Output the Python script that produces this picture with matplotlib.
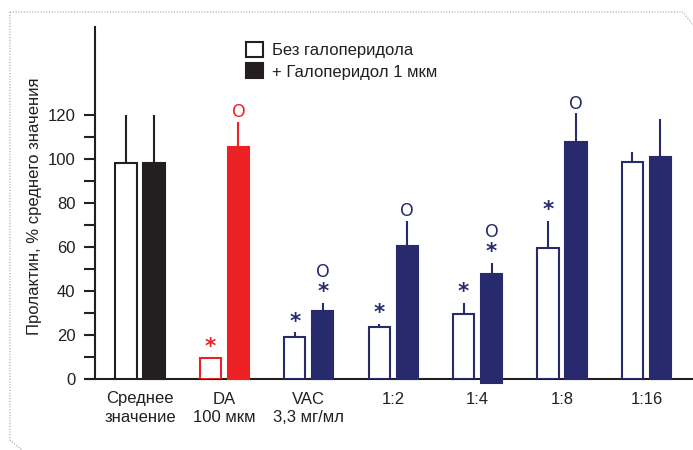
import numpy as np
import matplotlib
matplotlib.use("Agg")
import matplotlib.pyplot as plt
from matplotlib.lines import Line2D
from matplotlib.patches import Rectangle

plt.rcParams['font.family'] = ['Liberation Sans', 'DejaVu Sans']

# Группы и значения пролактина (% от среднего)
groups = ['Среднее\nзначение', 'DA\n100 мкм', 'VAC\n3,3 мг/мл', '1:2', '1:4', '1:8', '1:16']
no_hal = [98, 9.5, 19, 23.7, 29.6, 59.4, 98.7]
no_hal_err = [22, 0.4, 2.2, 1.3, 5, 12.4, 4.3]
with_hal = [98, 105.5, 30.7, 60.4, 47.6, 107.9, 101.1]
with_hal_err = [22, 11.5, 3.9, 11.6, 5.1, 12.8, 17]
with_hal_bottom = [0, 0, 0, 0, -2, 0, 0]

# отметки значимости
star_no = [False, True, True, True, True, True, False]
star_with = [False, False, True, False, True, False, False]
circle_with = [False, True, True, True, True, True, False]

navy = '#272a6d'
colors = ['#231f20', '#ed2024', navy, navy, navy, navy, navy]
text_color = '#231f20'
fs = 12

W, H = 693, 450
fig = plt.figure(figsize=(W / 100, H / 100), dpi=100)
ax_left, ax_right, ax_bottom, ax_top = 87, 693, 379, 27
ax = fig.add_axes([ax_left / W, 1 - ax_bottom / H, (ax_right - ax_left) / W, (ax_bottom - ax_top) / H])

x = np.arange(len(groups))
bw = 0.25
off = 0.166
step = 84.4  # пикселей на группу
x0 = -(140 - ax_left) / step
x1 = x0 + (ax_right - ax_left) / step
ax.set_xlim(x0, x1)
ax.set_ylim(0, 160)

lw = 1.5


def star(xp, yc, c):
    # звёздочка, центр глифа на высоте yc
    ax.text(xp, yc - 5.4, '*', color=c, ha='center', va='baseline',
            fontsize=15.5, family='DejaVu Sans', fontweight='bold')


def circle(xp, yc, c):
    ax.text(xp, yc - 2.8, 'O', color=c, ha='center', va='baseline',
            fontsize=12.5, family='DejaVu Sans')


for i in x:
    c = colors[i]
    ax.bar(x[i] - off, no_hal[i], bw, facecolor='white', edgecolor=c, linewidth=lw, zorder=3)
    ax.bar(x[i] + off, with_hal[i] - with_hal_bottom[i], bw, bottom=with_hal_bottom[i],
           facecolor=c, edgecolor=c, linewidth=lw, zorder=3, clip_on=False)
    ax.vlines(x[i] - off, no_hal[i], no_hal[i] + no_hal_err[i], color=c, linewidth=lw, zorder=2)
    ax.vlines(x[i] + off, with_hal[i], with_hal[i] + with_hal_err[i], color=c, linewidth=lw, zorder=2)

    top_no = no_hal[i] + no_hal_err[i]
    if star_no[i]:
        star(x[i] - off, top_no + 7.5, c)
    top_w = with_hal[i] + with_hal_err[i]
    if star_with[i]:
        star(x[i] + off, top_w + 7.5, c)
        top_w += 9.5
    if circle_with[i]:
        circle(x[i] + off, top_w + 5, c)

# оси
for s in ['top', 'right']:
    ax.spines[s].set_visible(False)
ax.spines['left'].set_position(('axes', (95 - ax_left) / (ax_right - ax_left)))
ax.spines['left'].set_linewidth(lw)
ax.spines['bottom'].set_linewidth(lw)
ax.spines['left'].set_color(text_color)
ax.spines['bottom'].set_color(text_color)
ax.spines['left'].set_bounds(0, 160)

ax.set_yticks(np.arange(0, 121, 20))
ax.set_yticks(np.arange(10, 121, 20), minor=True)
ax.tick_params(axis='y', which='both', direction='out', length=8, width=lw, color=text_color,
               labelsize=fs, labelcolor=text_color, pad=6)
ax.set_xticks(x)
ax.set_xticklabels(groups, fontsize=fs, color=text_color, linespacing=1.3)
ax.tick_params(axis='x', length=0, pad=9)
labels = ax.get_xticklabels()
labels[0].set_x(x[0] - 0.32)

fig.text(35 / W, 1 - 206 / H, 'Пролактин, % среднего значения', rotation=90,
         ha='center', va='center', fontsize=fs, color=text_color)

# легенда
handles = [Rectangle((0, 0), 1, 1, facecolor='white', edgecolor=text_color, linewidth=lw),
           Rectangle((0, 0), 1, 1, facecolor=text_color, edgecolor=text_color, linewidth=lw)]
leg = fig.legend(handles, ['Без галоперидола', '+ Галоперидол 1 мкм'],
                 loc='upper left', bbox_to_anchor=(238 / W, 1 - 34 / H), frameon=False,
                 fontsize=fs, handlelength=1.0, handleheight=1.0, handletextpad=0.55,
                 labelspacing=0.3, borderpad=0)
for t in leg.get_texts():
    t.set_color(text_color)

# пунктирная рамка
frame_kw = dict(color='#a0a0a0', linewidth=0.8, linestyle=(0, (1, 1.5)))
fig.add_artist(Line2D([10 / W, 683 / W, 1.0], [1 - 12 / H, 1 - 12 / H, 1 - 25 / H],
                      transform=fig.transFigure, **frame_kw))
fig.add_artist(Line2D([10 / W, 10 / W, 22 / W], [1 - 12 / H, 1 - 440 / H, 0.0],
                      transform=fig.transFigure, **frame_kw))

fig.savefig('out.png', dpi=100)
